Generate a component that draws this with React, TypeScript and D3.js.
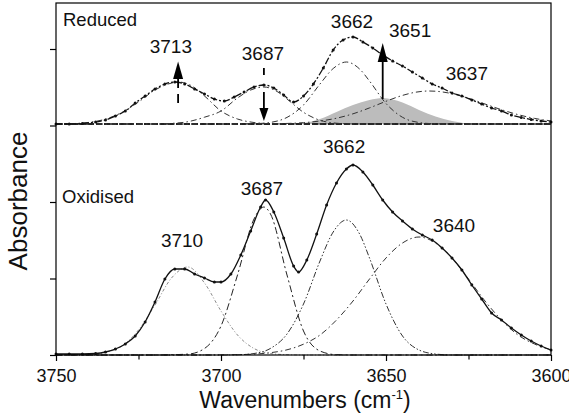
import { useEffect, useRef } from 'react';
import * as d3 from 'd3';

type Pt = [number, number];

// Absorbance in arbitrary units (1 unit = 1/76.5 of a y tick); x in cm-1.
// Oxidised: measured spectrum and the four fitted bands
const oxSpectrum: Pt[] = [
  [3750, 1], [3746, 1], [3742, 1], [3738, 1.5], [3735, 3], [3732, 6], [3729, 11], [3726, 19],
  [3723, 33], [3720, 53], [3717, 76], [3714, 86], [3711, 86], [3708, 81], [3705, 77], [3702, 73],
  [3700, 73], [3697, 81], [3694, 100], [3691, 124], [3688, 148], [3686.5, 155], [3684, 143],
  [3681, 117], [3678, 89], [3676.5, 83], [3674, 95], [3671, 121], [3668, 150], [3665, 172],
  [3662, 186], [3660, 190], [3657, 183], [3654, 170], [3651, 155], [3648, 143], [3645, 134],
  [3642, 126], [3639, 120], [3636, 115], [3633, 107], [3630, 97], [3627, 85], [3624, 70],
  [3621, 56], [3618, 42], [3615, 35], [3612, 27], [3609, 20], [3606, 14], [3603, 9], [3600, 5],
];
const ox3710: Pt[] = [
  [3750, 0], [3740, 0.5], [3735, 2.5], [3730, 9], [3725, 25], [3720, 50], [3715, 77], [3710, 88],
  [3705, 72], [3700, 44], [3695, 20], [3690, 6.5], [3685, 1.5], [3680, 0.3], [3675, 0], [3600, 0],
];
const ox3687: Pt[] = [
  [3750, 0], [3720, 0], [3710, 0.9], [3705, 6.5], [3700, 29], [3695, 80], [3690, 136], [3687, 148],
  [3685, 141], [3680, 80], [3675, 24], [3670, 4], [3665, 0.3], [3660, 0], [3600, 0],
];
const ox3662: Pt[] = [
  [3750, 0], [3700, 0], [3695, 0.2], [3690, 1.5], [3685, 6.6], [3680, 21], [3675, 51], [3670, 94],
  [3666, 123], [3662, 135], [3658, 121], [3655, 97], [3650, 51], [3645, 19], [3640, 5], [3635, 1],
  [3630, 0], [3600, 0],
];
const ox3640: Pt[] = [
  [3750, 0], [3710, 0], [3700, 0.1], [3690, 0.9], [3685, 2.3], [3680, 5.2], [3675, 10.8], [3670, 20],
  [3665, 35], [3660, 54], [3655, 76], [3650, 97], [3645, 112], [3640, 118], [3635, 112], [3630, 97],
  [3625, 76], [3620, 54], [3615, 35], [3610, 20], [3605, 11], [3600, 5],
];

// Reduced: measured spectrum and fitted bands (3651 is the shaded one)
const redSpectrum: Pt[] = [
  [3750, 0], [3746, 0], [3742, 0.5], [3738, 2], [3735, 4], [3732, 8], [3729, 13], [3726, 21],
  [3723, 28], [3720, 35], [3717, 40], [3714, 42], [3711, 40], [3708, 35], [3705, 30], [3702, 25],
  [3699, 23], [3696, 27], [3693, 32], [3690, 37], [3687, 39], [3684, 36], [3681, 29], [3678, 22],
  [3675, 28], [3672, 40], [3669, 56], [3666, 74], [3663, 84], [3660, 87], [3657, 82], [3654, 76],
  [3651, 69], [3648, 63], [3645, 58], [3642, 52], [3639, 46], [3636, 40], [3633, 36], [3630, 31],
  [3627, 28], [3624, 24], [3621, 20], [3618, 16], [3615, 13], [3612, 9], [3609, 6.5], [3606, 4.5],
  [3603, 3], [3600, 2],
];
const red3713: Pt[] = [
  [3750, 0], [3745, 0.4], [3740, 1.6], [3735, 4.9], [3730, 11.6], [3725, 22], [3720, 34], [3716, 40],
  [3713, 42], [3710, 40], [3705, 28], [3700, 13], [3695, 5], [3690, 1.5], [3685, 0.3], [3680, 0],
  [3600, 0],
];
const red3687: Pt[] = [
  [3750, 0], [3720, 0], [3715, 0.6], [3710, 2.3], [3705, 6.8], [3700, 13], [3695, 26], [3691, 34],
  [3687, 37], [3683, 32.5], [3680, 25], [3675, 11.7], [3670, 3.7], [3665, 0.8], [3660, 0], [3600, 0],
];
const red3662: Pt[] = [
  [3750, 0], [3700, 0], [3690, 0.3], [3685, 1.6], [3680, 6.6], [3675, 19], [3670, 40], [3666, 55.5],
  [3662, 62], [3658, 55], [3655, 43], [3650, 20.5], [3645, 6.7], [3640, 1.5], [3635, 0.2], [3630, 0],
  [3600, 0],
];
const red3637: Pt[] = [
  [3750, 0], [3690, 0], [3685, 0.2], [3680, 0.55], [3675, 1.35], [3670, 3], [3665, 5.8], [3660, 10.2],
  [3655, 16.1], [3650, 22.7], [3645, 28.6], [3641, 31.8], [3637, 33], [3633, 32.1], [3630, 30.3],
  [3625, 25.7], [3620, 20], [3615, 14.3], [3610, 9.4], [3605, 5.6], [3600, 3.1],
];
const red3651: Pt[] = [
  [3680, 0], [3675, 1], [3670, 5], [3665, 12], [3660, 19], [3655, 24], [3651, 26], [3645, 21.5],
  [3640, 14], [3635, 7.5], [3630, 3], [3625, 0.5], [3620, 0],
];

// Arrows on the reduced trace: band, tail and tip heights
const arrowWn = [3713, 3687, 3651];
const arrowTail = [20, 56, 25];
const arrowTip = [62.5, 3, 81];

const xTicks = [3750, 3700, 3650, 3600];
const xMinorTicks = [3725, 3675, 3625];
const yTicks = [0, 76.5, 153, 229.5, 306];
const reducedOffset = 231;

const oxLabels = [
  { text: '3710', wn: 3711.8, a: 108 },
  { text: '3687', wn: 3687.6, a: 160 },
  { text: '3662', wn: 3662.7, a: 202 },
  { text: '3640', wn: 3629.4, a: 123 },
];
const redLabels = [
  { text: '3713', wn: 3715.2, a: 71 },
  { text: '3687', wn: 3687.3, a: 64 },
  { text: '3662', wn: 3660.3, a: 96 },
  { text: '3651', wn: 3642.7, a: 87 },
  { text: '3637', wn: 3625.5, a: 44 },
];

const FONT = 'Arial, "Liberation Sans", Helvetica, sans-serif';

const App = () => {
  const svgRef = useRef<SVGSVGElement>(null);

  useEffect(() => {
    const width = 569;
    const height = 419;

    const svg = d3.select(svgRef.current);
    svg.selectAll('*').remove();
    svg.attr('width', width).attr('height', height);

    const x = d3.scaleLinear().domain([3750, 3600]).range([56, 551]);
    const y = d3.scaleLinear().domain([0, 352]).range([355, 3]);

    const lineAt = (offset: number) =>
      d3.line<Pt>()
        .x(d => x(d[0]))
        .y(d => y(d[1] + offset))
        .curve(d3.curveMonotoneX);

    // Shaded 3651 band
    svg.append('path')
      .datum(red3651)
      .attr('d', d3.area<Pt>()
        .x(d => x(d[0]))
        .y0(y(reducedOffset))
        .y1(d => y(d[1] + reducedOffset))
        .curve(d3.curveMonotoneX))
      .attr('fill', '#bcbcbc');

    // Reduced baseline
    svg.append('line')
      .attr('x1', x(3750)).attr('x2', x(3600))
      .attr('y1', y(reducedOffset)).attr('y2', y(reducedOffset))
      .attr('stroke', '#222').attr('stroke-width', 2.2)
      .attr('stroke-dasharray', '6,2');

    const bands = [
      { pts: ox3710, off: 0, color: '#8c8c8c', dash: '3,2,1,2' },
      { pts: ox3687, off: 0, color: '#222', dash: '7,3,2,3' },
      { pts: ox3662, off: 0, color: '#333', dash: '6,2,1.5,2,1.5,2' },
      { pts: ox3640, off: 0, color: '#333', dash: '6,3,1.5,3' },
      { pts: red3713, off: reducedOffset, color: '#333', dash: '6,3,1.5,3' },
      { pts: red3687, off: reducedOffset, color: '#333', dash: '6,3,1.5,3' },
      { pts: red3662, off: reducedOffset, color: '#333', dash: '6,3,1.5,3' },
      { pts: red3637, off: reducedOffset, color: '#333', dash: '6,3,1.5,3' },
    ];
    bands.forEach(b => {
      svg.append('path')
        .datum(b.pts)
        .attr('d', lineAt(b.off))
        .attr('fill', 'none')
        .attr('stroke', b.color)
        .attr('stroke-width', 1)
        .attr('stroke-dasharray', b.dash);
    });

    // Measured spectra: line + points
    const spectra = [
      { pts: oxSpectrum, off: 0, dash: null },
      { pts: redSpectrum, off: reducedOffset, dash: '7,2,2,2' },
    ];
    spectra.forEach(s => {
      svg.append('path')
        .datum(s.pts)
        .attr('d', lineAt(s.off))
        .attr('fill', 'none')
        .attr('stroke', '#111')
        .attr('stroke-width', 1.3)
        .attr('stroke-dasharray', s.dash);
      svg.append('g')
        .selectAll('circle')
        .data(s.pts)
        .join('circle')
        .attr('cx', d => x(d[0]))
        .attr('cy', d => y(d[1] + s.off))
        .attr('r', 1.5)
        .attr('fill', '#111');
    });

    // Arrows on the reduced trace
    const arrowStyle = [
      { dash: '9,6', head: 17.5, half: 5 },
      { dash: '7,17,20', head: 13, half: 4.5 },
      { dash: null, head: 19, half: 5 },
    ];
    arrowWn.forEach((wn, i) => {
      const st = arrowStyle[i];
      const ax = x(wn);
      const tail = y(arrowTail[i] + reducedOffset);
      const tip = y(arrowTip[i] + reducedOffset);
      const dir = tip < tail ? 1 : -1; // 1 = pointing up
      const base = tip + dir * st.head;
      svg.append('line')
        .attr('x1', ax).attr('x2', ax)
        .attr('y1', dir === 1 ? base : tail)
        .attr('y2', dir === 1 ? tail : base)
        .attr('stroke', '#000')
        .attr('stroke-width', 1.8)
        .attr('stroke-dasharray', st.dash);
      svg.append('path')
        .attr('d', `M${ax},${tip}L${ax - st.half},${base}L${ax + st.half},${base}Z`)
        .attr('fill', '#000');
    });

    // Frame
    svg.append('rect')
      .attr('x', x(3750)).attr('y', y(352))
      .attr('width', x(3600) - x(3750)).attr('height', y(0) - y(352))
      .attr('fill', 'none').attr('stroke', '#000').attr('stroke-width', 1.2);

    // Axes
    const xAxis = svg.append('g')
      .attr('transform', `translate(0,${y(0)})`)
      .call(d3.axisBottom(x).tickValues(xTicks).tickSize(6).tickPadding(8.5).tickFormat(d3.format('d')));
    xAxis.selectAll('text')
      .style('font-family', FONT).style('font-size', '18px').style('fill', '#111');

    svg.append('g')
      .attr('transform', `translate(0,${y(0)})`)
      .call(d3.axisBottom(x).tickValues(xMinorTicks).tickSize(4.5).tickFormat(() => ''));

    svg.append('g')
      .attr('transform', `translate(${x(3750)},0)`)
      .call(d3.axisLeft(y).tickValues(yTicks).tickSize(6).tickFormat(() => ''));

    svg.selectAll('.domain').remove();
    svg.selectAll('.tick line').style('stroke', '#000').style('stroke-width', 1.2);

    // Peak labels
    const putLabels = (labels: { text: string; wn: number; a: number }[], off: number) => {
      svg.append('g')
        .selectAll('text')
        .data(labels)
        .join('text')
        .attr('x', d => x(d.wn))
        .attr('y', d => y(d.a + off))
        .attr('text-anchor', 'middle')
        .style('font-family', FONT)
        .style('font-size', '19px')
        .style('fill', '#111')
        .text(d => d.text);
    };
    putLabels(oxLabels, 0);
    putLabels(redLabels, reducedOffset);

    // Panel names
    svg.append('text').attr('x', 63).attr('y', 26)
      .style('font-family', FONT).style('font-size', '18.5px').style('fill', '#111')
      .text('Reduced');
    svg.append('text').attr('x', 62).attr('y', 203)
      .style('font-family', FONT).style('font-size', '18.5px').style('fill', '#111')
      .text('Oxidised');

    // Axis titles
    const xt = svg.append('text')
      .attr('x', 305).attr('y', 408)
      .attr('text-anchor', 'middle')
      .style('font-family', FONT).style('font-size', '23px').style('fill', '#111');
    xt.append('tspan').text('Wavenumbers (cm');
    xt.append('tspan').attr('dy', -9).style('font-size', '13px').text('-1');
    xt.append('tspan').attr('dy', 9).text(')');

    svg.append('text')
      .attr('transform', 'translate(27,201) rotate(-90)')
      .attr('text-anchor', 'middle')
      .style('font-family', FONT).style('font-size', '26px').style('fill', '#111')
      .text('Absorbance');
  }, []);

  return (
    <svg
      ref={svgRef}
      style={{ position: 'absolute', left: 0, top: 0, background: '#fff' }}
    />
  );
};

export default App;
